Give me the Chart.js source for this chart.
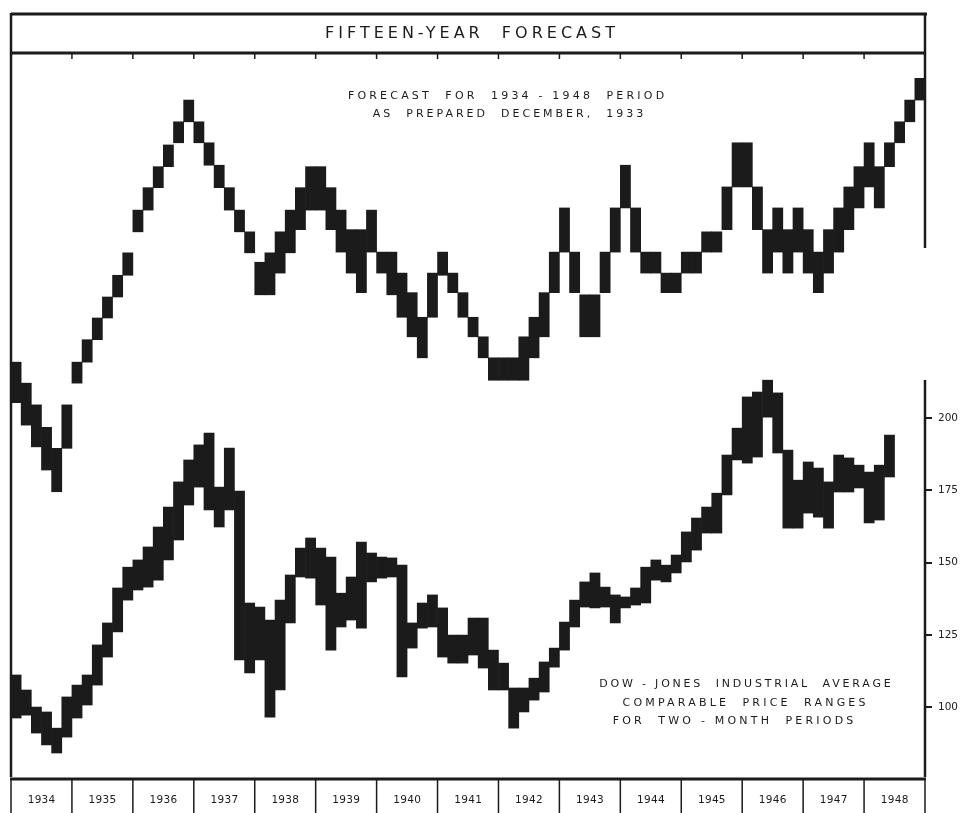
<!DOCTYPE html>
<html><head><meta charset="utf-8">
<script src="https://cdn.jsdelivr.net/npm/chart.js@4/dist/chart.umd.min.js"></script>
<style>html,body{margin:0;padding:0;background:#fff;}#wrap{width:972px;height:813px;}</style>
</head><body><div id="wrap"><canvas id="c" width="972" height="813"></canvas></div>
<script>
// ---- data ----
const years = ['1934','1935','1936','1937','1938','1939','1940','1941','1942','1943','1944','1945','1946','1947','1948'];
const periods = ['Jan-Feb','Mar-Apr','May-Jun','Jul-Aug','Sep-Oct','Nov-Dec'];
const dowTicks = [100, 125, 150, 175, 200];

// Forecast (index units, no scale shown)
const forecastLow = [51.7,48.6,45.6,42.4,39.4,45.4, 54.4,57.3,60.4,63.4,66.3,69.3, 75.3,78.3,81.4,84.3,87.6,90.5,
  87.6,84.5,81.4,78.3,75.3,72.4, 66.6,66.6,69.6,72.4,75.6,78.3, 78.3,75.6,72.5,69.6,66.9,72.5,
  69.6,66.6,63.5,60.8,57.9,63.5, 69.3,66.9,63.5,60.8,57.9,54.8, 54.8,54.8,54.8,57.9,60.8,66.9,
  72.5,66.9,60.8,60.8,66.9,72.5, 78.6,72.5,69.6,69.6,66.9,66.9, 69.6,69.6,72.5,72.5,75.6,81.5,
  81.5,75.6,69.6,72.5,69.6,72.5, 69.6,66.9,69.6,72.5,75.6,78.6, 81.5,78.6,84.3,87.6,90.5,93.5];
const forecastHigh = [57.3,54.4,51.4,48.3,45.4,51.4, 57.3,60.4,63.4,66.3,69.3,72.4, 78.3,81.4,84.3,87.3,90.5,93.5,
  90.5,87.6,84.5,81.4,78.3,75.3, 71.1,72.4,75.3,78.3,81.4,84.3, 84.3,81.4,78.3,75.6,75.6,78.3,
  72.5,72.5,69.6,66.9,63.5,69.6, 72.5,69.6,66.9,63.5,60.8,57.9, 57.9,57.9,60.8,63.5,66.9,72.5,
  78.6,72.5,66.6,66.6,72.5,78.6, 84.5,78.6,72.5,72.5,69.6,69.6, 72.5,72.5,75.3,75.3,81.5,87.6,
  87.6,81.5,75.6,78.6,75.6,78.6, 75.6,72.5,75.6,78.6,81.5,84.3, 87.6,84.3,87.6,90.5,93.5,96.5];

// Dow-Jones Industrial Average, two-month ranges
const dowLow = [96.2,97.2,91.0,86.9,84.1,89.6, 96.2,100.7,107.6,117.3,126.0,137.0, 140.5,141.5,143.9,150.9,157.8,169.9,
  176.1,168.2,162.3,168.2,116.3,111.8, 116.3,96.5,105.9,129.1,145.0,144.6, 135.3,119.7,127.7,130.1,127.3,143.3,
  144.6,145.0,110.4,120.4,127.3,127.7, 117.3,115.2,115.2,118.0,113.5,105.9, 105.9,92.7,98.3,102.4,105.2,113.8,
  119.7,127.7,134.6,134.3,134.6,129.1, 134.3,135.3,136.0,143.9,143.3,146.4, 150.2,154.3,160.2,160.2,173.4,185.5,
  184.4,186.5,200.3,187.9,161.9,161.9, 167.1,165.7,161.9,174.4,174.4,175.8, 163.7,164.7,179.6,null,null,null];
const dowHigh = [111.1,105.9,100.0,98.3,92.7,103.5, 107.6,111.1,121.5,129.1,141.2,148.4, 150.9,155.4,162.3,169.2,177.9,185.5,
  190.7,194.8,176.1,189.6,174.7,136.0, 134.6,130.1,137.0,145.7,155.0,158.5, 155.0,151.9,139.4,145.0,157.1,153.3,
  151.9,151.6,149.1,129.1,136.0,138.8, 134.3,124.9,124.9,130.8,130.8,119.7, 115.2,106.6,106.6,110.0,115.6,120.4,
  129.4,137.0,143.3,146.4,141.5,138.8, 138.1,141.2,148.4,150.9,149.1,152.6, 160.6,165.4,169.2,174.0,187.2,196.5,
  207.3,209.0,213.1,208.7,188.9,178.5, 184.8,182.7,177.9,187.2,186.2,183.7, 181.3,183.7,194.1,null,null,null];

const labels = years.flatMap(y => periods.map(p => y + ' ' + p));
const pair = (lo, hi) => lo.map((v, i) => (v == null || hi[i] == null) ? null : [v, hi[i]]);

const INK = '#1b1b1b';
const FONT = '"DejaVu Sans", sans-serif';

function drawText(ctx, s, x, y, size, spacing) {
  ctx.font = size + 'px ' + FONT;
  try { ctx.letterSpacing = spacing + 'px'; } catch (e) {}
  ctx.textAlign = 'center';
  ctx.textBaseline = 'middle';
  ctx.fillText(s, x + spacing / 2, y);
  try { ctx.letterSpacing = '0px'; } catch (e) {}
}

const framePlugin = {
  id: 'frame',
  afterDraw(chart) {
    const ctx = chart.ctx, a = chart.chartArea, xs = chart.scales.x;
    const L = a.left, R = a.right, T = a.top, B = a.bottom;
    const boundary = k => k === 0 ? L : (k === years.length ? R : (xs.getPixelForValue(6 * k - 1) + xs.getPixelForValue(6 * k)) / 2);
    ctx.save();
    ctx.strokeStyle = INK; ctx.fillStyle = INK; ctx.lineCap = 'butt';
    // outer frame
    ctx.lineWidth = 3;
    ctx.beginPath();
    ctx.moveTo(L, 14); ctx.lineTo(R + 2, 14);
    ctx.moveTo(L, T); ctx.lineTo(R, T);
    ctx.stroke();
    ctx.lineWidth = 2.5;
    ctx.beginPath();
    ctx.moveTo(L, 13); ctx.lineTo(L, B);
    ctx.moveTo(R, 13); ctx.lineTo(R, 248);
    ctx.moveTo(R, 380); ctx.lineTo(R, B);
    ctx.stroke();
    // year ticks under the title
    ctx.lineWidth = 1.5;
    ctx.beginPath();
    for (let k = 1; k < years.length; k++) { const x = boundary(k); ctx.moveTo(x, T); ctx.lineTo(x, T + 6); }
    ctx.stroke();
    // year strip
    ctx.lineWidth = 3;
    ctx.beginPath(); ctx.moveTo(L - 1, B + 2); ctx.lineTo(R + 1, B + 2); ctx.stroke();
    ctx.lineWidth = 1.5;
    ctx.beginPath();
    for (let k = 0; k <= years.length; k++) { const x = boundary(k); ctx.moveTo(x, B + 2); ctx.lineTo(x, 813); }
    ctx.stroke();
    for (let k = 0; k < years.length; k++) {
      drawText(ctx, years[k], (boundary(k) + boundary(k + 1)) / 2, B + 23, 10.5, 0.3);
    }
    // title
    const cx = (L + R) / 2;
    drawText(ctx, 'FIFTEEN-YEAR  FORECAST', cx + 2, 34, 16, 4);
    // forecast note
    drawText(ctx, 'FORECAST  FOR  1934 - 1948  PERIOD', 506, 96, 11, 3.2);
    drawText(ctx, 'AS  PREPARED  DECEMBER,  1933', 508, 114, 11, 3);
    // dow note
    drawText(ctx, 'DOW - JONES  INDUSTRIAL  AVERAGE', 745, 684, 11, 2.8);
    drawText(ctx, 'COMPARABLE  PRICE  RANGES', 744, 703, 11, 3.2);
    drawText(ctx, 'FOR  TWO - MONTH  PERIODS', 733, 721, 11, 3.2);
    ctx.restore();
  }
};

new Chart(document.getElementById('c'), {
  type: 'bar',
  data: {
    labels: labels,
    datasets: [
      { label: 'Forecast for 1934-1948 period', data: pair(forecastLow, forecastHigh), yAxisID: 'yF',
        backgroundColor: INK, borderWidth: 0, grouped: false, barPercentage: 1, categoryPercentage: 1 },
      { label: 'Dow-Jones Industrial Average', data: pair(dowLow, dowHigh), yAxisID: 'y',
        backgroundColor: INK, borderWidth: 0, grouped: false, barPercentage: 1, categoryPercentage: 1 }
    ]
  },
  options: {
    responsive: false, animation: false, devicePixelRatio: 1,
    layout: { padding: { top: 53, left: 11, right: 0, bottom: 36 } },
    plugins: { legend: { display: false }, tooltip: { enabled: false }, title: { display: false } },
    scales: {
      x: { display: false, offset: true },
      yF: { display: false, min: 0, max: 100 },
      y: {
        position: 'right', min: 75.8, max: 326.3,
        afterBuildTicks: s => { s.ticks = dowTicks.map(v => ({ value: v })); },
        afterFit: s => { s.width = 47; },
        border: { display: false },
        grid: { drawOnChartArea: false, drawTicks: true, tickLength: 7, color: INK, lineWidth: 2 },
        ticks: { color: '#222', padding: 6, font: { family: 'DejaVu Sans', size: 10.5 } }
      }
    }
  },
  plugins: [framePlugin]
});
</script></body></html>
